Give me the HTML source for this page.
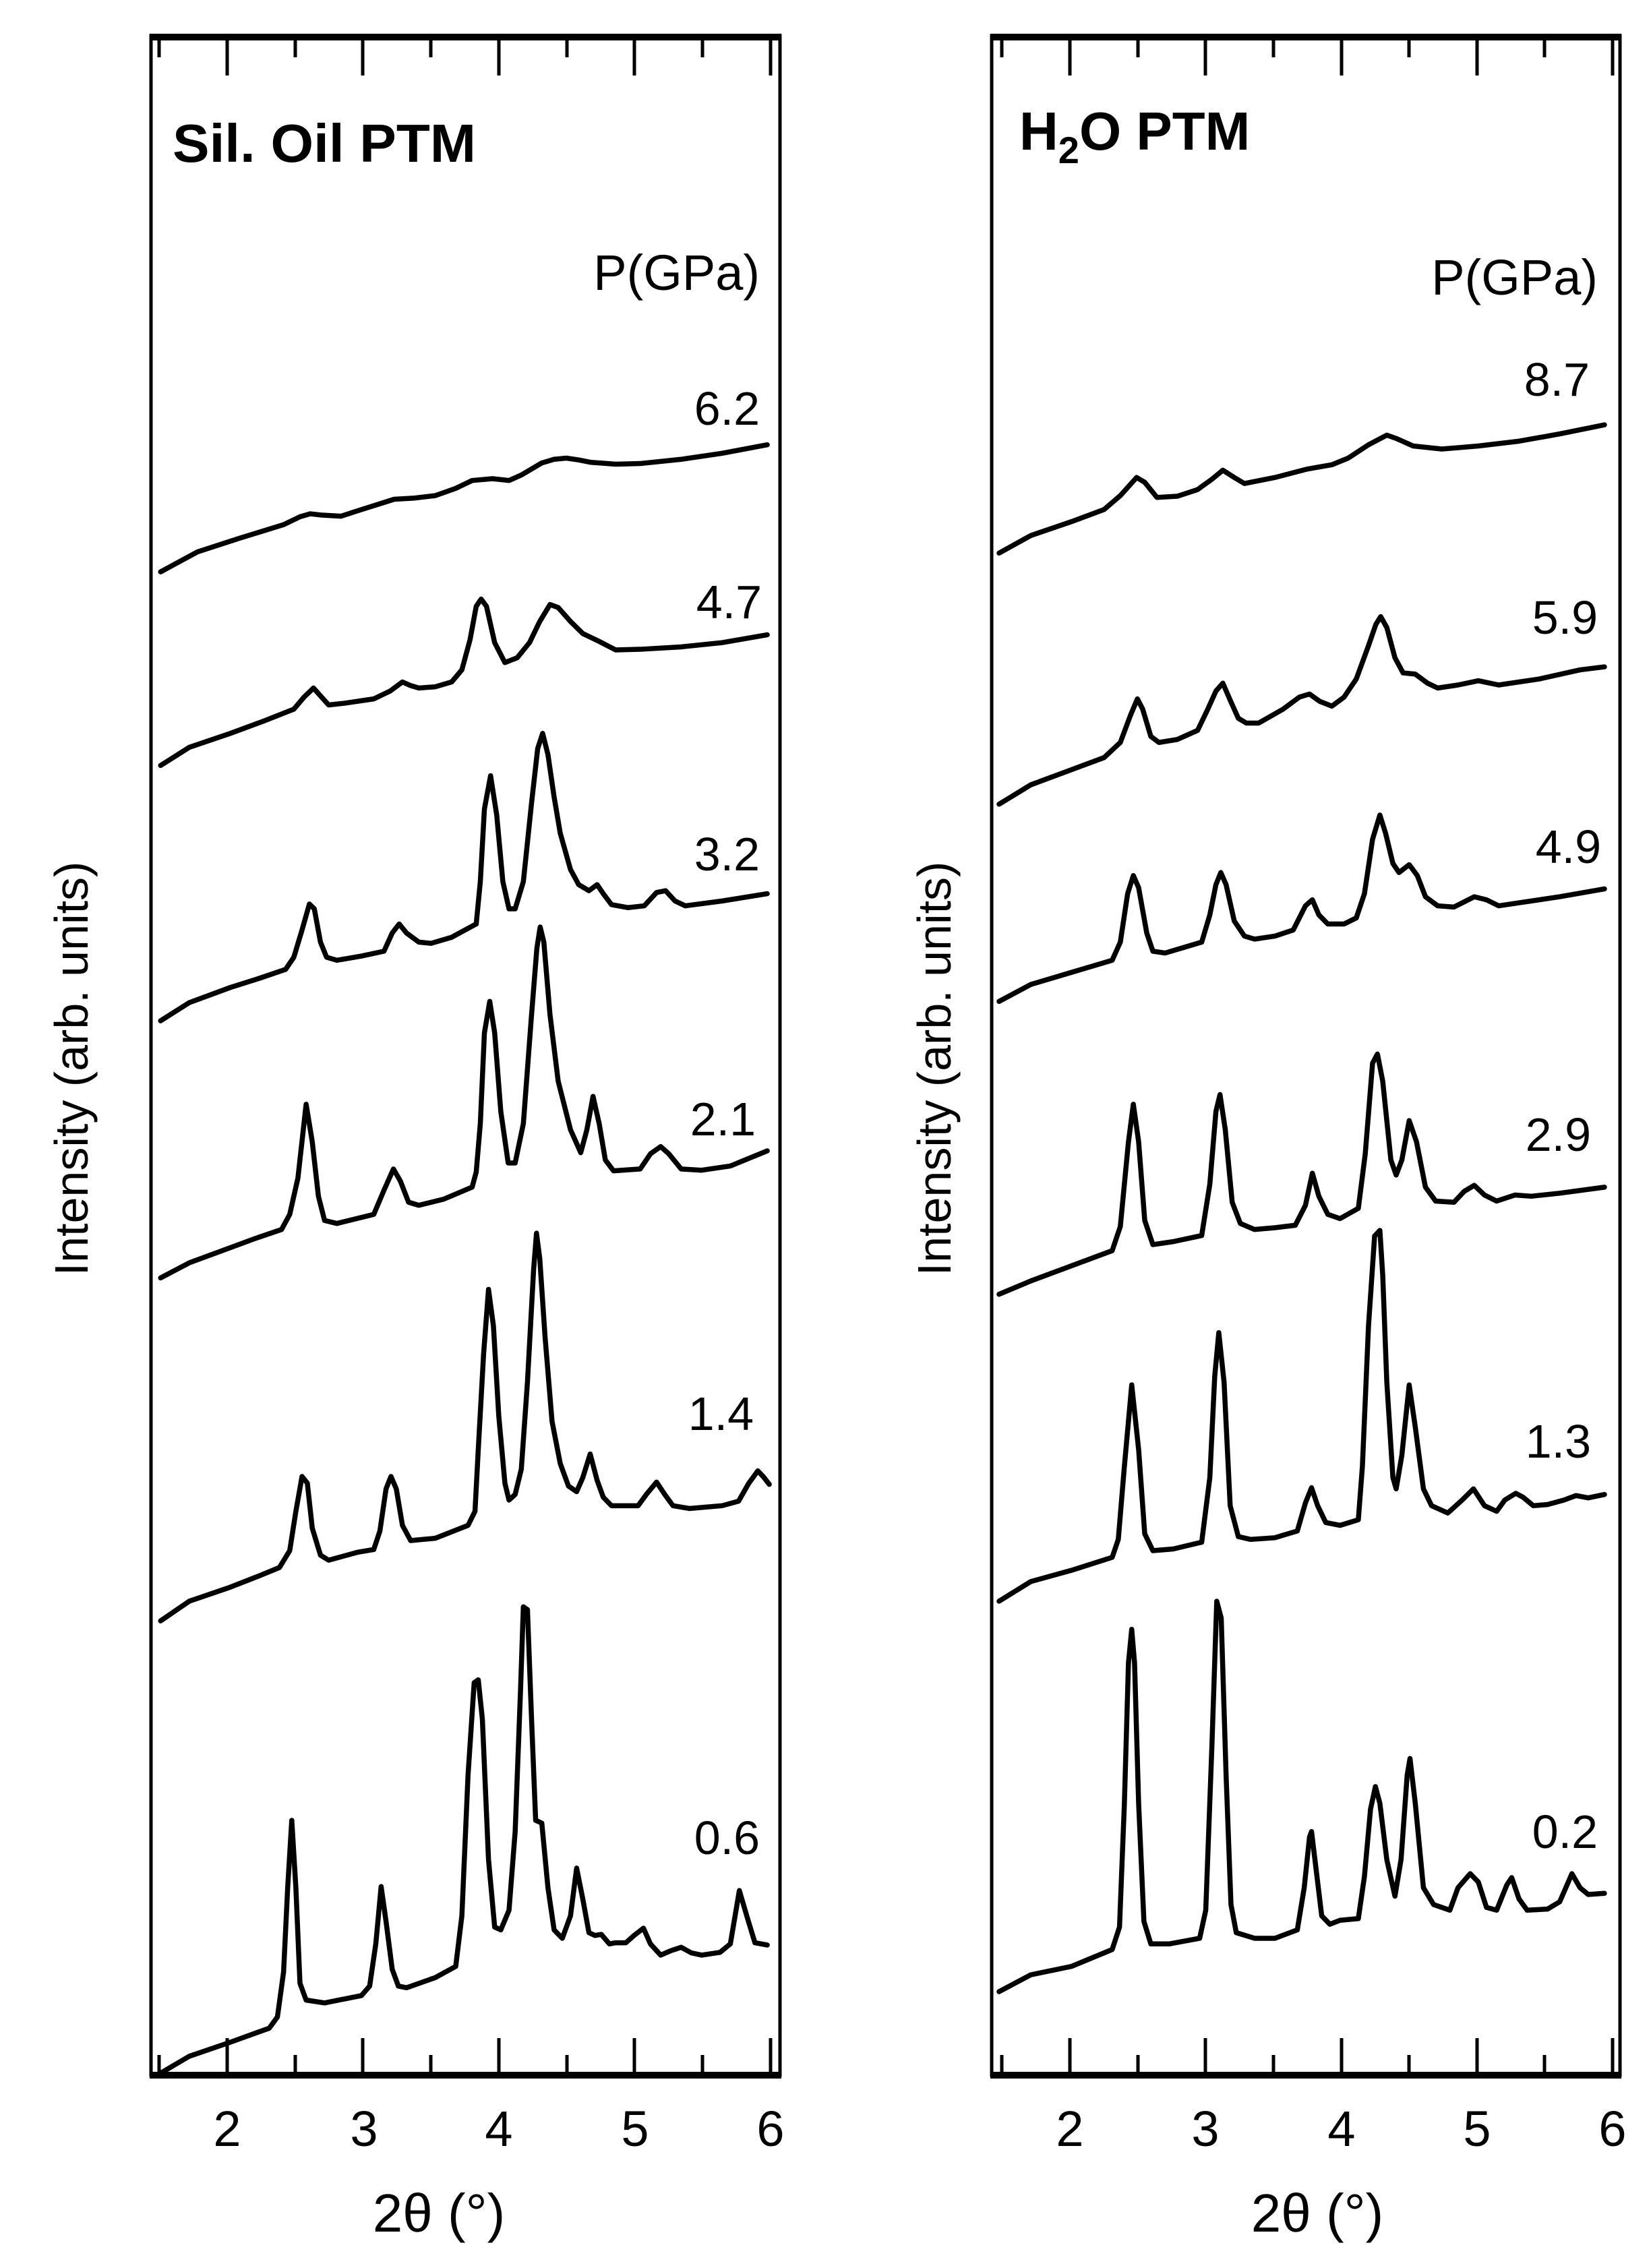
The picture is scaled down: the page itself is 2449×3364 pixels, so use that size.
<!DOCTYPE html>
<html><head><meta charset="utf-8"><style>
html,body{margin:0;padding:0;background:#fff;}
svg{display:block;}
text{font-family:"Liberation Sans",Arial,sans-serif;fill:#000;}
</style></head><body>
<svg xmlns="http://www.w3.org/2000/svg" width="2449" height="3364" viewBox="0 0 2449 3364">
<rect width="2449" height="3364" fill="#fff"/>
<g fill="none" stroke="#000">
<rect x="224" y="53" width="933" height="3025" stroke-width="5"/>
<line x1="222" y1="55" x2="1159" y2="55" stroke-width="10"/>
<line x1="222" y1="3078" x2="1159" y2="3078" stroke-width="10"/>
<rect x="1471" y="53" width="932" height="3025" stroke-width="5"/>
<line x1="1469" y1="55" x2="2405" y2="55" stroke-width="10"/>
<line x1="1469" y1="3078" x2="2405" y2="3078" stroke-width="10"/>
<g stroke-width="5">
<path d="M236,55V85M337,55V112M438,55V85M538,55V112M639,55V85M740,55V112M841,55V85M941,55V112M1042,55V85M1143,55V112
M236,3078V3048M337,3078V3023M438,3078V3048M538,3078V3023M639,3078V3048M740,3078V3023M841,3078V3048M941,3078V3023M1042,3078V3048M1143,3078V3023"/>
<path d="M1486,55V85M1587,55V112M1688,55V85M1788,55V112M1889,55V85M1990,55V112M2090,55V85M2191,55V112M2291,55V85M2392,55V112
M1486,3078V3048M1587,3078V3023M1688,3078V3048M1788,3078V3023M1889,3078V3048M1990,3078V3023M2090,3078V3048M2191,3078V3023M2291,3078V3048M2392,3078V3023"/>
</g>
</g>
<g fill="none" stroke="#000" stroke-width="7.5" stroke-linejoin="round" stroke-linecap="round">
<g transform="translate(220,500) scale(0.608,0.8974)">
<polyline vector-effect="non-scaling-stroke" points="30,388 120,355 220,333 330,310 370,297 395,292 420,294 470,296 520,285 600,268 650,266 700,262 750,250 790,237 840,234 880,237 910,228 960,208 990,202 1020,200 1050,203 1080,207 1140,210 1200,209 1300,202 1400,192 1510,178"/>
<polyline vector-effect="non-scaling-stroke" points="30,708 100,678 200,655 280,635 355,615 380,595 403,580 420,593 440,608 480,605 550,598 590,585 620,570 640,576 660,580 700,578 740,570 765,550 785,500 800,445 812,433 825,445 845,505 870,538 900,530 930,505 955,470 980,442 1000,447 1030,470 1060,490 1100,503 1140,517 1200,516 1300,512 1400,505 1510,492"/>
<polyline vector-effect="non-scaling-stroke" points="30,1130 100,1100 200,1075 270,1060 335,1045 355,1025 375,980 393,937 405,945 420,1000 435,1025 460,1030 520,1023 575,1015 595,985 612,970 630,985 660,1000 690,1002 740,992 800,970 810,900 820,780 835,725 850,790 865,900 880,945 895,945 915,900 935,770 950,680 962,655 975,690 990,760 1005,820 1030,880 1050,905 1075,915 1095,905 1110,920 1130,938 1170,943 1210,940 1240,918 1262,915 1285,932 1310,940 1400,932 1510,920"/>
<polyline vector-effect="non-scaling-stroke" points="30,1555 100,1530 200,1505 260,1490 325,1475 345,1450 365,1390 385,1268 400,1330 415,1420 430,1460 460,1465 550,1450 575,1410 598,1375 615,1395 635,1430 660,1435 720,1425 790,1405 800,1380 810,1300 820,1150 833,1098 845,1150 860,1280 878,1365 895,1365 915,1300 935,1120 948,1010 956,975 965,1000 980,1120 1000,1230 1030,1310 1055,1348 1070,1310 1085,1255 1100,1300 1115,1360 1135,1378 1200,1375 1225,1350 1250,1338 1270,1350 1300,1375 1350,1377 1420,1370 1510,1345"/>
</g>
<g transform="translate(220,1800) scale(0.608,0.8333)">
<polyline vector-effect="non-scaling-stroke" points="30,725 100,690 200,665 270,645 320,630 345,600 360,530 375,468 388,480 400,560 420,608 440,617 510,603 550,598 565,565 580,490 592,468 605,490 620,555 640,582 700,578 780,555 797,530 805,420 818,250 830,135 842,200 855,360 870,480 880,510 895,500 910,455 925,300 940,100 947,35 955,80 968,220 985,370 1005,445 1025,485 1045,495 1060,470 1078,428 1095,475 1110,505 1130,520 1195,520 1215,500 1240,478 1260,500 1280,520 1320,525 1400,520 1440,512 1465,480 1487,458 1500,468 1515,482"/>
<polyline vector-effect="non-scaling-stroke" points="30,1530 100,1500 200,1475 295,1450 315,1430 330,1350 340,1200 350,1080 360,1200 370,1370 385,1400 430,1405 520,1392 540,1375 555,1300 568,1198 580,1260 595,1345 610,1375 630,1378 700,1360 750,1340 765,1250 780,1000 795,835 805,830 815,900 830,1150 845,1270 860,1275 880,1240 895,1100 908,850 915,700 925,705 935,900 945,1080 960,1085 975,1200 990,1275 1010,1290 1030,1250 1045,1165 1060,1220 1075,1280 1090,1285 1105,1283 1125,1300 1140,1298 1165,1298 1185,1285 1208,1272 1225,1300 1250,1320 1275,1312 1300,1306 1325,1316 1350,1320 1395,1315 1420,1300 1442,1205 1460,1250 1480,1298 1510,1302"/>
</g>
<g transform="translate(1468.7,500) scale(0.6035,0.8974)">
<polyline vector-effect="non-scaling-stroke" points="22,357 100,328 200,305 280,285 320,262 360,232 380,240 410,265 460,263 510,252 545,235 572,220 600,232 625,242 700,232 780,218 840,211 880,200 930,178 975,162 1000,168 1040,180 1110,185 1200,180 1300,172 1400,160 1510,145"/>
<polyline vector-effect="non-scaling-stroke" points="22,772 100,740 200,715 280,695 320,670 345,625 362,598 375,615 395,660 415,670 460,665 510,650 535,615 555,585 572,572 590,600 610,630 630,638 660,638 720,615 760,595 785,590 810,602 840,610 870,595 900,565 930,510 948,475 960,462 975,480 995,530 1015,555 1045,557 1075,572 1100,580 1150,575 1200,568 1250,575 1350,565 1450,550 1510,545"/>
<polyline vector-effect="non-scaling-stroke" points="22,1098 100,1070 200,1050 300,1030 320,1000 338,920 352,890 365,910 385,985 400,1015 430,1018 470,1010 520,1000 540,955 555,905 567,885 580,905 600,965 625,990 650,995 700,990 745,980 775,940 792,930 808,955 830,970 870,970 900,960 920,920 940,830 958,790 972,820 990,870 1005,885 1030,872 1050,890 1070,925 1100,940 1140,942 1190,925 1220,930 1250,940 1300,935 1400,925 1510,912"/>
<polyline vector-effect="non-scaling-stroke" points="22,1582 100,1560 200,1535 300,1510 320,1470 340,1330 352,1268 365,1330 380,1460 400,1500 450,1495 520,1485 540,1400 555,1280 565,1252 578,1310 595,1430 615,1465 650,1475 700,1472 750,1468 775,1435 792,1382 808,1420 830,1450 860,1457 905,1440 922,1350 940,1200 952,1185 965,1230 985,1360 998,1385 1012,1360 1030,1295 1048,1330 1070,1405 1095,1428 1140,1430 1165,1412 1190,1402 1215,1418 1245,1428 1290,1418 1330,1420 1400,1415 1510,1405"/>
</g>
<g transform="translate(1468.7,1800) scale(0.6035,0.8333)">
<polyline vector-effect="non-scaling-stroke" points="22,690 100,655 200,635 300,612 315,580 330,450 348,305 365,420 380,570 400,600 450,597 520,585 540,470 552,290 562,212 575,300 590,520 610,575 640,580 700,577 755,565 775,515 790,488 805,520 825,550 860,555 905,545 915,450 930,200 945,40 958,30 965,110 975,300 990,470 998,490 1012,430 1030,305 1045,380 1065,490 1085,520 1125,533 1160,510 1188,490 1215,520 1245,530 1265,510 1292,498 1310,505 1335,520 1370,518 1410,510 1440,502 1470,506 1510,500"/>
<polyline vector-effect="non-scaling-stroke" points="22,1385 100,1355 200,1340 300,1310 318,1270 330,1050 340,800 348,740 355,800 365,1050 378,1260 395,1300 440,1300 515,1290 530,1240 545,950 557,690 568,720 580,1000 592,1230 605,1280 650,1290 700,1290 755,1275 772,1200 785,1110 790,1100 800,1160 815,1250 835,1265 860,1258 905,1255 920,1180 935,1060 947,1020 958,1050 975,1150 995,1215 1010,1150 1025,1000 1032,970 1045,1050 1065,1200 1090,1230 1130,1240 1150,1200 1180,1175 1200,1190 1220,1235 1245,1240 1270,1195 1282,1182 1300,1220 1320,1240 1370,1238 1400,1225 1430,1175 1450,1200 1470,1212 1510,1210"/>
</g>
</g>
<g font-size="70" text-anchor="end">
<text x="1127" y="630">6.2</text>
<text x="1130" y="917">4.7</text>
<text x="1127" y="1291">3.2</text>
<text x="1121" y="1684">2.1</text>
<text x="1118" y="2121">1.4</text>
<text x="1127" y="2750">0.6</text>
<text x="2358" y="587">8.7</text>
<text x="2370" y="940">5.9</text>
<text x="2375" y="1280">4.9</text>
<text x="2360" y="1707">2.9</text>
<text x="2360" y="2162">1.3</text>
<text x="2370" y="2741">0.2</text>
<text x="1127" y="430" font-size="74">P(GPa)</text>
<text x="2370" y="437" font-size="74">P(GPa)</text>
</g>
<text x="256" y="240" font-size="80" font-weight="bold" textLength="450" lengthAdjust="spacingAndGlyphs">Sil. Oil PTM</text>
<text x="1512" y="222" font-size="80" font-weight="bold">H<tspan font-size="56" dy="20">2</tspan><tspan dy="-20">O PTM</tspan></text>
<g font-size="74" text-anchor="middle">
<text x="337" y="3183">2</text><text x="540" y="3183">3</text><text x="740" y="3183">4</text><text x="942" y="3183">5</text><text x="1143" y="3183">6</text>
<text x="1587" y="3183">2</text><text x="1788" y="3183">3</text><text x="1990" y="3183">4</text><text x="2191" y="3183">5</text><text x="2392" y="3183">6</text>
</g>
<g font-size="80" text-anchor="middle">
<text x="651" y="3310">2θ (°)</text>
<text x="1954" y="3310">2θ (°)</text>
</g>
<g font-size="70" text-anchor="middle">
<text transform="translate(130,1585) rotate(-90)">Intensity (arb. units)</text>
<text transform="translate(1410,1585) rotate(-90)">Intensity (arb. units)</text>
</g>
</svg>
</body></html>
